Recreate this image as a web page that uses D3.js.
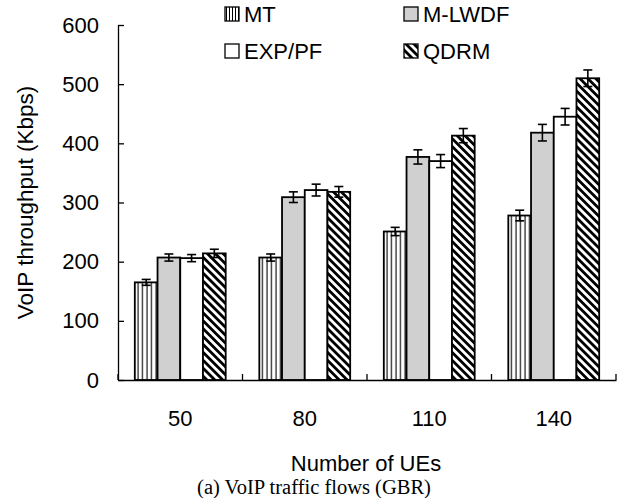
<!DOCTYPE html>
<html>
<head>
<meta charset="utf-8">
<script src="https://cdn.jsdelivr.net/npm/d3@7"></script>
<style>
  body { margin: 0; background: #fff; }
  text { font-family: Arial, "Liberation Sans", sans-serif; fill: #000; }
</style>
</head>
<body>
<div id="chart"></div>
<script>
const AREA_WIDTH = 635;
const AREA_HEIGHT = 498;
const PLOT = { LEFT: 118, RIGHT: 616, TOP: 25, BOTTOM: 380 };

// data
const categories = ['50', '80', '110', '140'];
const series = ['MT', 'M-LWDF', 'EXP/PF', 'QDRM'];
const values = {
  'MT':     [165, 207, 251, 278],
  'M-LWDF': [207, 309, 377, 418],
  'EXP/PF': [206, 321, 370, 445],
  'QDRM':   [214, 318, 413, 510]
};
const errors = {
  'MT':     [5, 6, 7, 9],
  'M-LWDF': [6, 9, 12, 14],
  'EXP/PF': [6, 10, 11, 14],
  'QDRM':   [7, 9, 12, 14]
};
const yTicks = [0, 100, 200, 300, 400, 500, 600];

const fills = {
  'MT': 'url(#vlines)',
  'M-LWDF': '#d0d0d0',
  'EXP/PF': '#ffffff',
  'QDRM': 'url(#diag)'
};

const svg = d3.select('#chart')
              .append('svg')
              .attr('width', AREA_WIDTH)
              .attr('height', AREA_HEIGHT);

// patterns
const defs = svg.append('defs');
const vl = defs.append('pattern')
               .attr('id', 'vlines')
               .attr('patternUnits', 'userSpaceOnUse')
               .attr('width', 4.5)
               .attr('height', 10);
vl.append('rect').attr('width', 4.5).attr('height', 10).attr('fill', '#fff');
vl.append('line').attr('x1', 2).attr('x2', 2).attr('y1', 0).attr('y2', 10)
  .attr('stroke', '#000').attr('stroke-width', 1.1);

const dg = defs.append('pattern')
               .attr('id', 'diag')
               .attr('patternUnits', 'userSpaceOnUse')
               .attr('width', 5.6)
               .attr('height', 10)
               .attr('patternTransform', 'rotate(-45)');
dg.append('rect').attr('width', 5.6).attr('height', 10).attr('fill', '#fff');
dg.append('line').attr('x1', 1.4).attr('x2', 1.4).attr('y1', 0).attr('y2', 10)
  .attr('stroke', '#000').attr('stroke-width', 2.8);

const vlSmall = defs.append('pattern')
               .attr('id', 'vlinesSmall')
               .attr('patternUnits', 'userSpaceOnUse')
               .attr('width', 3)
               .attr('height', 10);
vlSmall.append('rect').attr('width', 3).attr('height', 10).attr('fill', '#fff');
vlSmall.append('line').attr('x1', 1.5).attr('x2', 1.5).attr('y1', 0).attr('y2', 10)
  .attr('stroke', '#000').attr('stroke-width', 1);

// scales
const x0 = d3.scaleBand()
             .domain(categories)
             .range([PLOT.LEFT, PLOT.RIGHT])
             .padding(0);
const x1 = d3.scaleBand()
             .domain(series)
             .range([0, x0.bandwidth()])
             .paddingInner(0)
             .paddingOuter(0.74);
const y = d3.scaleLinear()
            .domain([0, 600])
            .range([PLOT.BOTTOM, PLOT.TOP]);

// bars
const rows = categories.map((c, i) => ({
  cat: c,
  items: series.map(s => ({ s, v: values[s][i], e: errors[s][i] }))
}));

const groups = svg.selectAll('g.group')
                  .data(rows)
                  .enter()
                  .append('g')
                  .attr('class', 'group')
                  .attr('transform', d => `translate(${x0(d.cat)},0)`);

groups.selectAll('rect')
      .data(d => d.items)
      .enter()
      .append('rect')
      .attr('x', d => x1(d.s))
      .attr('y', d => y(d.v))
      .attr('width', x1.bandwidth())
      .attr('height', d => y(0) - y(d.v))
      .attr('fill', d => fills[d.s])
      .attr('stroke', '#000')
      .attr('stroke-width', 1.8);

// error bars
const eb = groups.selectAll('g.err')
                 .data(d => d.items)
                 .enter()
                 .append('g')
                 .attr('class', 'err')
                 .attr('stroke', '#000')
                 .attr('stroke-width', 1.6);
const cx = d => x1(d.s) + x1.bandwidth() / 2;
eb.append('line')
  .attr('x1', cx).attr('x2', cx)
  .attr('y1', d => y(d.v - d.e)).attr('y2', d => y(d.v + d.e));
eb.append('line')
  .attr('x1', d => cx(d) - 4.5).attr('x2', d => cx(d) + 4.5)
  .attr('y1', d => y(d.v - d.e)).attr('y2', d => y(d.v - d.e));
eb.append('line')
  .attr('x1', d => cx(d) - 4.5).attr('x2', d => cx(d) + 4.5)
  .attr('y1', d => y(d.v + d.e)).attr('y2', d => y(d.v + d.e));

// y axis
const yAxis = svg.append('g')
                 .attr('transform', `translate(${PLOT.LEFT},0)`)
                 .call(d3.axisLeft(y)
                         .tickValues(yTicks)
                         .tickSizeInner(-6)
                         .tickSizeOuter(0)
                         .tickPadding(19));
yAxis.select('.domain').attr('stroke', '#000').attr('stroke-width', 1.3);
yAxis.selectAll('.tick line').attr('stroke', '#000').attr('stroke-width', 1.3);
yAxis.selectAll('.tick text')
     .attr('font-size', '22px')
     .attr('font-family', 'Arial, "Liberation Sans", sans-serif');

// x axis
const xAxis = svg.append('g')
                 .attr('transform', `translate(0,${PLOT.BOTTOM})`)
                 .call(d3.axisBottom(x0).tickSize(0).tickSizeOuter(0).tickPadding(30));
xAxis.select('.domain').attr('stroke', '#000').attr('stroke-width', 1.3);
xAxis.selectAll('.tick text')
     .attr('font-size', '22px')
     .attr('font-family', 'Arial, "Liberation Sans", sans-serif');

// category separators
const bounds = categories.map(c => x0(c)).concat([x0.range()[1]]);
svg.append('g')
   .selectAll('line')
   .data(bounds)
   .enter()
   .append('line')
   .attr('x1', d => d).attr('x2', d => d)
   .attr('y1', PLOT.BOTTOM).attr('y2', PLOT.BOTTOM - 6)
   .attr('stroke', '#000')
   .attr('stroke-width', 1.3);

// axis titles
svg.append('text')
   .attr('transform', `translate(33, ${(PLOT.TOP + PLOT.BOTTOM) / 2}) rotate(-90)`)
   .style('text-anchor', 'middle')
   .attr('font-size', '22.5px')
   .text('VoIP throughput (Kbps)');

svg.append('text')
   .attr('x', 366)
   .attr('y', 471)
   .style('text-anchor', 'middle')
   .attr('font-size', '22px')
   .text('Number of UEs');

svg.append('text')
   .attr('x', 314)
   .attr('y', 494)
   .style('text-anchor', 'middle')
   .style('font-family', '"Times New Roman", "Liberation Serif", serif')
   .attr('font-size', '20.5px')
   .text('(a) VoIP traffic flows (GBR)');

// legend
const legendFills = {
  'MT': 'url(#vlinesSmall)',
  'M-LWDF': '#d0d0d0',
  'EXP/PF': '#ffffff',
  'QDRM': 'url(#diag)'
};
const legendPos = [
  { x: 225, y: 7 }, { x: 404, y: 7 },
  { x: 225, y: 44 }, { x: 404, y: 44 }
];
const legend = svg.selectAll('g.legend')
                  .data(series)
                  .enter()
                  .append('g')
                  .attr('class', 'legend')
                  .attr('transform', (d, i) => `translate(${legendPos[i].x},${legendPos[i].y})`);
legend.append('rect')
      .attr('width', 14)
      .attr('height', 14)
      .attr('fill', d => legendFills[d])
      .attr('stroke', '#000')
      .attr('stroke-width', 1.3);
legend.append('text')
      .attr('x', 19)
      .attr('y', 15)
      .attr('font-size', '22px')
      .text(d => d);
</script>
</body>
</html>
